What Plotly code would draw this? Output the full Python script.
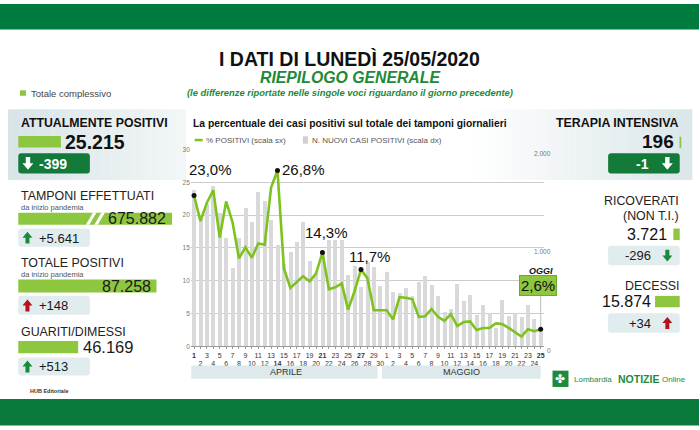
import plotly.graph_objects as go

# dati del grafico (aprile 1-30, maggio 1-25)
giorni = list(range(1, 31)) + list(range(1, 26))
mesi = ['APRILE', 'MAGGIO']
perc_positivi = [23.0, 19.1, 21.9, 23.8, 16.6, 22.1, 18.9, 13.4, 15.1, 13.5,
                 15.7, 15.5, 24.2, 26.8, 11.9, 8.9, 9.8, 10.7, 9.9, 11.1,
                 14.3, 8.7, 9.0, 9.6, 5.6, 8.4, 11.7, 10.4, 5.5, 5.5,
                 5.5, 4.1, 7.5, 7.4, 7.2, 4.5, 4.6, 5.7, 4.5, 3.9,
                 4.9, 3.1, 3.7, 3.8, 2.5, 2.8, 2.8, 3.5, 3.4, 2.8,
                 2.1, 1.5, 2.6, 2.3, 2.6]
nuovi_positivi = [1595, 1300, 1455, 1630, 1360, 1110, 805, 1110, 1410, 1270,
                  1570, 1485, 1285, 1035, 845, 960, 1060, 1270, 870, 750,
                  960, 1090, 1090, 1090, 730, 820, 605, 860, 810, 620,
                  760, 555, 545, 595, 520, 655, 720, 630, 520, 350,
                  385, 637, 463, 523, 320, 420, 347, 190, 480, 313,
                  340, 307, 423, 280, 148]
evidenziati = [1, 14, 21, 27, 55]
etichette = ['23,0%', '26,8%', '14,3%', '11,7%', '2,6%']
tick_sx = [0, 5, 10, 15, 20, 25, 30]
tick_dx = [0, 1000, 2000]
tick_dx_testo = ['0', '1.000', '2.000']

# pannelli laterali
voci_sx = ['ATTUALMENTE POSITIVI', 'TAMPONI EFFETTUATI', 'TOTALE POSITIVI', 'GUARITI/DIMESSI']
valori_sx = ['25.215', '675.882', '87.258', '46.169']
variazioni_sx = ['-399', '+5.641', '+148', '+513']
voci_dx = ['TERAPIA INTENSIVA', 'RICOVERATI', '(NON T.I.)', 'DECESSI']
valori_dx = ['196', '3.721', '15.874']
variazioni_dx = ['-1', '-296', '+34']

FONT = 'Liberation Sans, Arial, sans-serif'
W, H = 700, 430
VERDE = '#7dc21f'
LIME = '#8dc63f'
VERDE_SCURO = '#137a3a'
AZZURRINO = '#e1ecee'
ROSSO = '#b5121b'
VERDE_FRECCIA = '#1a8a3a'


def px(x):
    return x / W


def py(y):
    return 1 - y / H


shapes = []
ann = []


def rect(x0, y0, x1, y1, color, layer='above'):
    shapes.append(dict(type='rect', xref='paper', yref='paper',
                       x0=px(x0), x1=px(x1), y0=py(y1), y1=py(y0),
                       fillcolor=color, line=dict(width=0), layer=layer))


def rrect(x0, y0, x1, y1, color, r=3):
    p = (f"M {px(x0+r)} {py(y0)} L {px(x1-r)} {py(y0)} Q {px(x1)} {py(y0)} {px(x1)} {py(y0+r)} "
         f"L {px(x1)} {py(y1-r)} Q {px(x1)} {py(y1)} {px(x1-r)} {py(y1)} L {px(x0+r)} {py(y1)} "
         f"Q {px(x0)} {py(y1)} {px(x0)} {py(y1-r)} L {px(x0)} {py(y0+r)} Q {px(x0)} {py(y0)} {px(x0+r)} {py(y0)} Z")
    shapes.append(dict(type='path', xref='paper', yref='paper', path=p,
                       fillcolor=color, line=dict(width=0), layer='above'))


def poligono(pts, color):
    p = 'M ' + ' L '.join(f'{px(x)} {py(y)}' for x, y in pts) + ' Z'
    shapes.append(dict(type='path', xref='paper', yref='paper', path=p,
                       fillcolor=color, line=dict(width=0), layer='above'))


def freccia(cx, cy, su, color, h=12, w=10):
    t, b = cy - h / 2, cy + h / 2
    sw = w * 0.2
    if su:
        hb = t + h * 0.5
        pts = [(cx, t), (cx + w / 2, hb), (cx + sw, hb), (cx + sw, b),
               (cx - sw, b), (cx - sw, hb), (cx - w / 2, hb)]
    else:
        hb = b - h * 0.5
        pts = [(cx, b), (cx + w / 2, hb), (cx + sw, hb), (cx + sw, t),
               (cx - sw, t), (cx - sw, hb), (cx - w / 2, hb)]
    poligono(pts, color)


def gradiente(x0, y0, x1, y1, c0, c1, n=40):
    a = [int(c0[i:i + 2], 16) for i in (1, 3, 5)]
    b = [int(c1[i:i + 2], 16) for i in (1, 3, 5)]
    step = (x1 - x0) / n
    for k in range(n):
        f = k / (n - 1)
        c = '#%02x%02x%02x' % tuple(round(a[j] + (b[j] - a[j]) * f) for j in range(3))
        rect(x0 + k * step, y0, x0 + (k + 1) * step + 0.3, y1, c, layer='below')


def testo(x, y, t, size, color='#222', xanchor='left'):
    ann.append(dict(xref='paper', yref='paper', x=px(x), y=py(y), text=t,
                    showarrow=False, xanchor=xanchor, yanchor='middle',
                    font=dict(size=size, color=color, family=FONT)))


# fasce verdi
rect(0, 0, 700, 26, '#007b3e')
rect(0, 401.5, 700, 428.5, '#0a7a3c')

# intestazione
testo(350, 55.5, '<b>I DATI DI LUNEDÌ 25/05/2020</b>', 19.5, '#111', 'center')
testo(350, 74.5, '<b><i>RIEPILOGO GENERALE</i></b>', 15.8, '#208a36', 'center')
testo(350, 90, '<b><i>(le differenze riportate nelle singole voci riguardano il giorno precedente)</i></b>',
      9.4, '#208a36', 'center')

# legenda pannelli
rect(20, 87.7, 26, 93.3, LIME)
testo(29, 90.7, 'Totale complessivo', 9.5, '#444')

# sfondi sfumati
gradiente(8, 107, 186, 179, '#d8e4e8', '#f2f6f7')
gradiente(470, 107, 693, 179, '#ffffff', '#dae6e9')

# --- pannello sinistro ---
testo(19.5, 121, '<b>' + voci_sx[0] + '</b>', 12.3, '#111')
rect(18.3, 134.3, 61, 146, LIME)
testo(63.5, 140.5, '<b>' + valori_sx[0] + '</b>', 19.5, '#111')
rrect(18.3, 151.7, 90, 172.3, VERDE_SCURO)
freccia(28, 162, False, 'white', 13, 11)
testo(37, 162.5, '<b>' + variazioni_sx[0] + '</b>', 14, 'white')

testo(19.5, 195.2, voci_sx[1], 12.4, '#222')
testo(19.5, 206.8, 'da inizio pandemia', 7.5, '#555')
rect(18.3, 212.3, 172.3, 224.3, LIME)
poligono([(86, 224.3), (93, 212.3), (96.5, 212.3), (89.5, 224.3)], 'white')
poligono([(94.5, 224.3), (101.5, 212.3), (105, 212.3), (98, 224.3)], 'white')
testo(168.5, 218.5, valori_sx[1], 16, '#1a1a1a', 'right')
rrect(18.3, 228.3, 90, 246.7, AZZURRINO)
freccia(27.5, 237.5, True, VERDE_FRECCIA)
testo(37, 238.3, variazioni_sx[1], 13, '#1a1a1a')

testo(19.5, 263, voci_sx[2], 12.4, '#222')
testo(19.5, 274.5, 'da inizio pandemia', 7.5, '#555')
rect(18.3, 280, 156.7, 293.3, LIME)
testo(153.5, 287, valori_sx[2], 16, '#1a1a1a', 'right')
rrect(18.3, 296.7, 90, 316, AZZURRINO)
freccia(27.5, 306.5, True, ROSSO)
testo(37, 306.7, variazioni_sx[2], 13, '#1a1a1a')

testo(19.5, 333.7, voci_sx[3], 12.4, '#222')
rect(18.3, 342.7, 78.3, 355, LIME)
testo(81, 348.5, valori_sx[3], 16.5, '#1a1a1a')
rrect(18.3, 359.3, 90, 377.7, AZZURRINO)
freccia(27.5, 368.5, True, VERDE_FRECCIA)
testo(37, 368.7, variazioni_sx[3], 13, '#1a1a1a')

testo(28, 393.3, '<b>HUB Editoriale</b>', 5.5, '#333')

# --- pannello destro ---
testo(681.5, 121, '<b>' + voci_dx[0] + '</b>', 12.4, '#111', 'right')
testo(677, 140, '<b>' + valori_dx[0] + '</b>', 19, '#111', 'right')
rect(680.5, 135, 682.3, 146.5, LIME)
rrect(609, 151.7, 680.7, 172.3, VERDE_SCURO)
testo(652, 162.5, '<b>' + variazioni_dx[0] + '</b>', 14, 'white', 'right')
freccia(668.3, 162, False, 'white', 13, 11)

testo(681.5, 200.3, voci_dx[1], 12.4, '#222', 'right')
testo(681.5, 215.8, voci_dx[2], 12.4, '#222', 'right')
testo(670, 234, valori_dx[1], 16, '#111', 'right')
rect(674.3, 228.3, 680.7, 240, LIME)
rrect(609, 245.7, 680.7, 265.7, AZZURRINO)
testo(654, 255.7, variazioni_dx[1], 13, '#1a1a1a', 'right')
freccia(668.3, 255.7, False, VERDE_FRECCIA)

testo(681.5, 287, voci_dx[3], 12.4, '#222', 'right')
testo(654, 302.5, valori_dx[2], 16, '#111', 'right')
rect(656, 296.7, 680.7, 308.3, LIME)
rrect(609, 314.3, 680.7, 334.3, AZZURRINO)
testo(654, 324.3, variazioni_dx[2], 13, '#1a1a1a', 'right')
freccia(668.3, 324.3, True, ROSSO)

# logo
rect(553.3, 372.7, 569.3, 389.3, '#1f8a3c')
testo(561.3, 381, '✤', 12, 'white', 'center')
testo(572.5, 381.5, 'Lombardia', 8, '#1f8a3c')
testo(616.5, 381, '<b>NOTIZIE</b>', 10.5, '#1f8a3c')
testo(661, 381.5, 'Online', 8, '#1f8a3c')

# --- grafico centrale ---
testo(191.5, 121, '<b>La percentuale dei casi positivi sul totale dei tamponi giornalieri</b>', 10.3, '#111')
shapes.append(dict(type='line', xref='paper', yref='paper', x0=px(195), x1=px(203),
                   y0=py(138.3), y1=py(138.3), line=dict(color=VERDE, width=2.5)))
testo(204.5, 138.3, '% POSITIVI (scala sx)', 8, '#555')
rect(303.3, 134.5, 308.5, 142, '#d0d0d0')
testo(310.5, 138.3, 'N. NUOVI CASI POSITIVI (scala dx)', 8, '#555')

rect(191.5, 367.5, 378, 381, '#dde9eb')
rect(382.5, 367.5, 541.5, 381, '#dde9eb')
testo(286, 374.5, mesi[0], 9, '#333', 'center')
testo(462, 374.5, mesi[1], 9, '#333', 'center')

pos = list(range(1, len(giorni) + 1))
etich = [('<b>%d</b>' % g if i in evidenziati else str(g)) for i, g in zip(pos, giorni)]
# giorni dispari sulla prima riga, pari sulla seconda
riga1 = [t if g % 2 == 1 else '' for t, g in zip(etich, giorni)]
pos_pari = [i for i, g in zip(pos, giorni) if g % 2 == 0]
riga2 = [t for t, g in zip(etich, giorni) if g % 2 == 0]

fig = go.Figure()
fig.add_trace(go.Bar(x=pos, y=nuovi_positivi, marker=dict(color='#d9d9d9', line=dict(width=0)),
                     width=0.62, yaxis='y', hoverinfo='skip'))
fig.add_trace(go.Scatter(x=pos, y=perc_positivi, mode='lines', yaxis='y2',
                         line=dict(color=VERDE, width=2.6), hoverinfo='skip'))
fig.add_trace(go.Scatter(x=evidenziati, y=[perc_positivi[i - 1] for i in evidenziati],
                         mode='markers', yaxis='y2',
                         marker=dict(color='#111', size=5), hoverinfo='skip'))
fig.add_trace(go.Scatter(x=pos_pari, y=[0] * len(pos_pari), xaxis='x2', yaxis='y',
                         mode='markers', marker=dict(opacity=0), hoverinfo='skip'))

# linea verticale verso "OGGI"
shapes.append(dict(type='line', xref='x', yref='paper', x0=pos[-1], x1=pos[-1],
                   y0=py(348), y1=py(296), line=dict(color='#bbbbbb', width=1), layer='below'))

spost = [(16, 26.5, 'center'), (3, 1, 'left'), (4, 20, 'center'), (8.5, 13, 'center')]
for (i, e), (dx, dy, xa) in zip(zip(evidenziati[:4], etichette[:4]), spost):
    ann.append(dict(xref='x', yref='y2', x=i, y=perc_positivi[i - 1], text=e, showarrow=False,
                    xanchor=xa, yanchor='middle', xshift=dx, yshift=dy,
                    font=dict(size=15, color='#111', family=FONT)))
ann.append(dict(xref='x', yref='y2', x=evidenziati[4], y=perc_positivi[-1], text='<b><i>OGGI</i></b>',
                showarrow=False, xanchor='center', yanchor='middle', xshift=0, yshift=58,
                font=dict(size=9, color='#111', family=FONT)))
ann.append(dict(xref='x', yref='y2', x=evidenziati[4], y=perc_positivi[-1], text=etichette[4],
                showarrow=False, xanchor='center', yanchor='middle', xshift=-3, yshift=44,
                bgcolor=LIME, bordercolor='#6bab2a', borderwidth=1, borderpad=1,
                font=dict(size=15, color='#111', family=FONT)))

for v, t in zip(tick_dx, tick_dx_testo):
    ann.append(dict(xref='paper', yref='y', x=px(554), y=v, text=t, showarrow=False,
                    xanchor='right', yanchor='middle', yshift=-4,
                    font=dict(size=6.5, color='#777', family=FONT)))

dominio_x = [px(191.1), px(544.7)]
fig.update_layout(
    width=W, height=H, autosize=False,
    margin=dict(l=0, r=0, t=0, b=0),
    paper_bgcolor='white', plot_bgcolor='rgba(0,0,0,0)',
    showlegend=False, bargap=0,
    font=dict(family=FONT),
    xaxis=dict(domain=dominio_x, range=[0.5, 55.5],
               tickvals=pos, ticktext=riga1, tickangle=0,
               tickfont=dict(size=7, color='#333'),
               ticks='outside', ticklen=2, tickcolor='#999',
               showgrid=False, zeroline=False,
               showline=True, linecolor='#999', linewidth=1, fixedrange=True),
    xaxis2=dict(overlaying='x', anchor='y', side='bottom', domain=dominio_x, range=[0.5, 55.5],
                tickvals=pos_pari, ticktext=riga2, tickangle=0,
                tickfont=dict(size=7, color='#333'),
                ticks='outside', ticklen=10, tickcolor='rgba(0,0,0,0)',
                showgrid=False, zeroline=False, showline=False, fixedrange=True),
    yaxis=dict(domain=[py(348), py(148)], range=[0, 2000],
               showticklabels=False, showgrid=False, zeroline=False, fixedrange=True),
    yaxis2=dict(overlaying='y', side='left', anchor='x', range=[0, 30],
                tickvals=tick_sx, tickfont=dict(size=6.5, color='#777'),
                showgrid=True, gridcolor='#cccccc', gridwidth=1,
                zeroline=False, ticks='', fixedrange=True),
    shapes=shapes,
    annotations=ann,
)

fig.write_html('out.html', config={'displayModeBar': False},
               post_script="document.body.style.margin='0';")
